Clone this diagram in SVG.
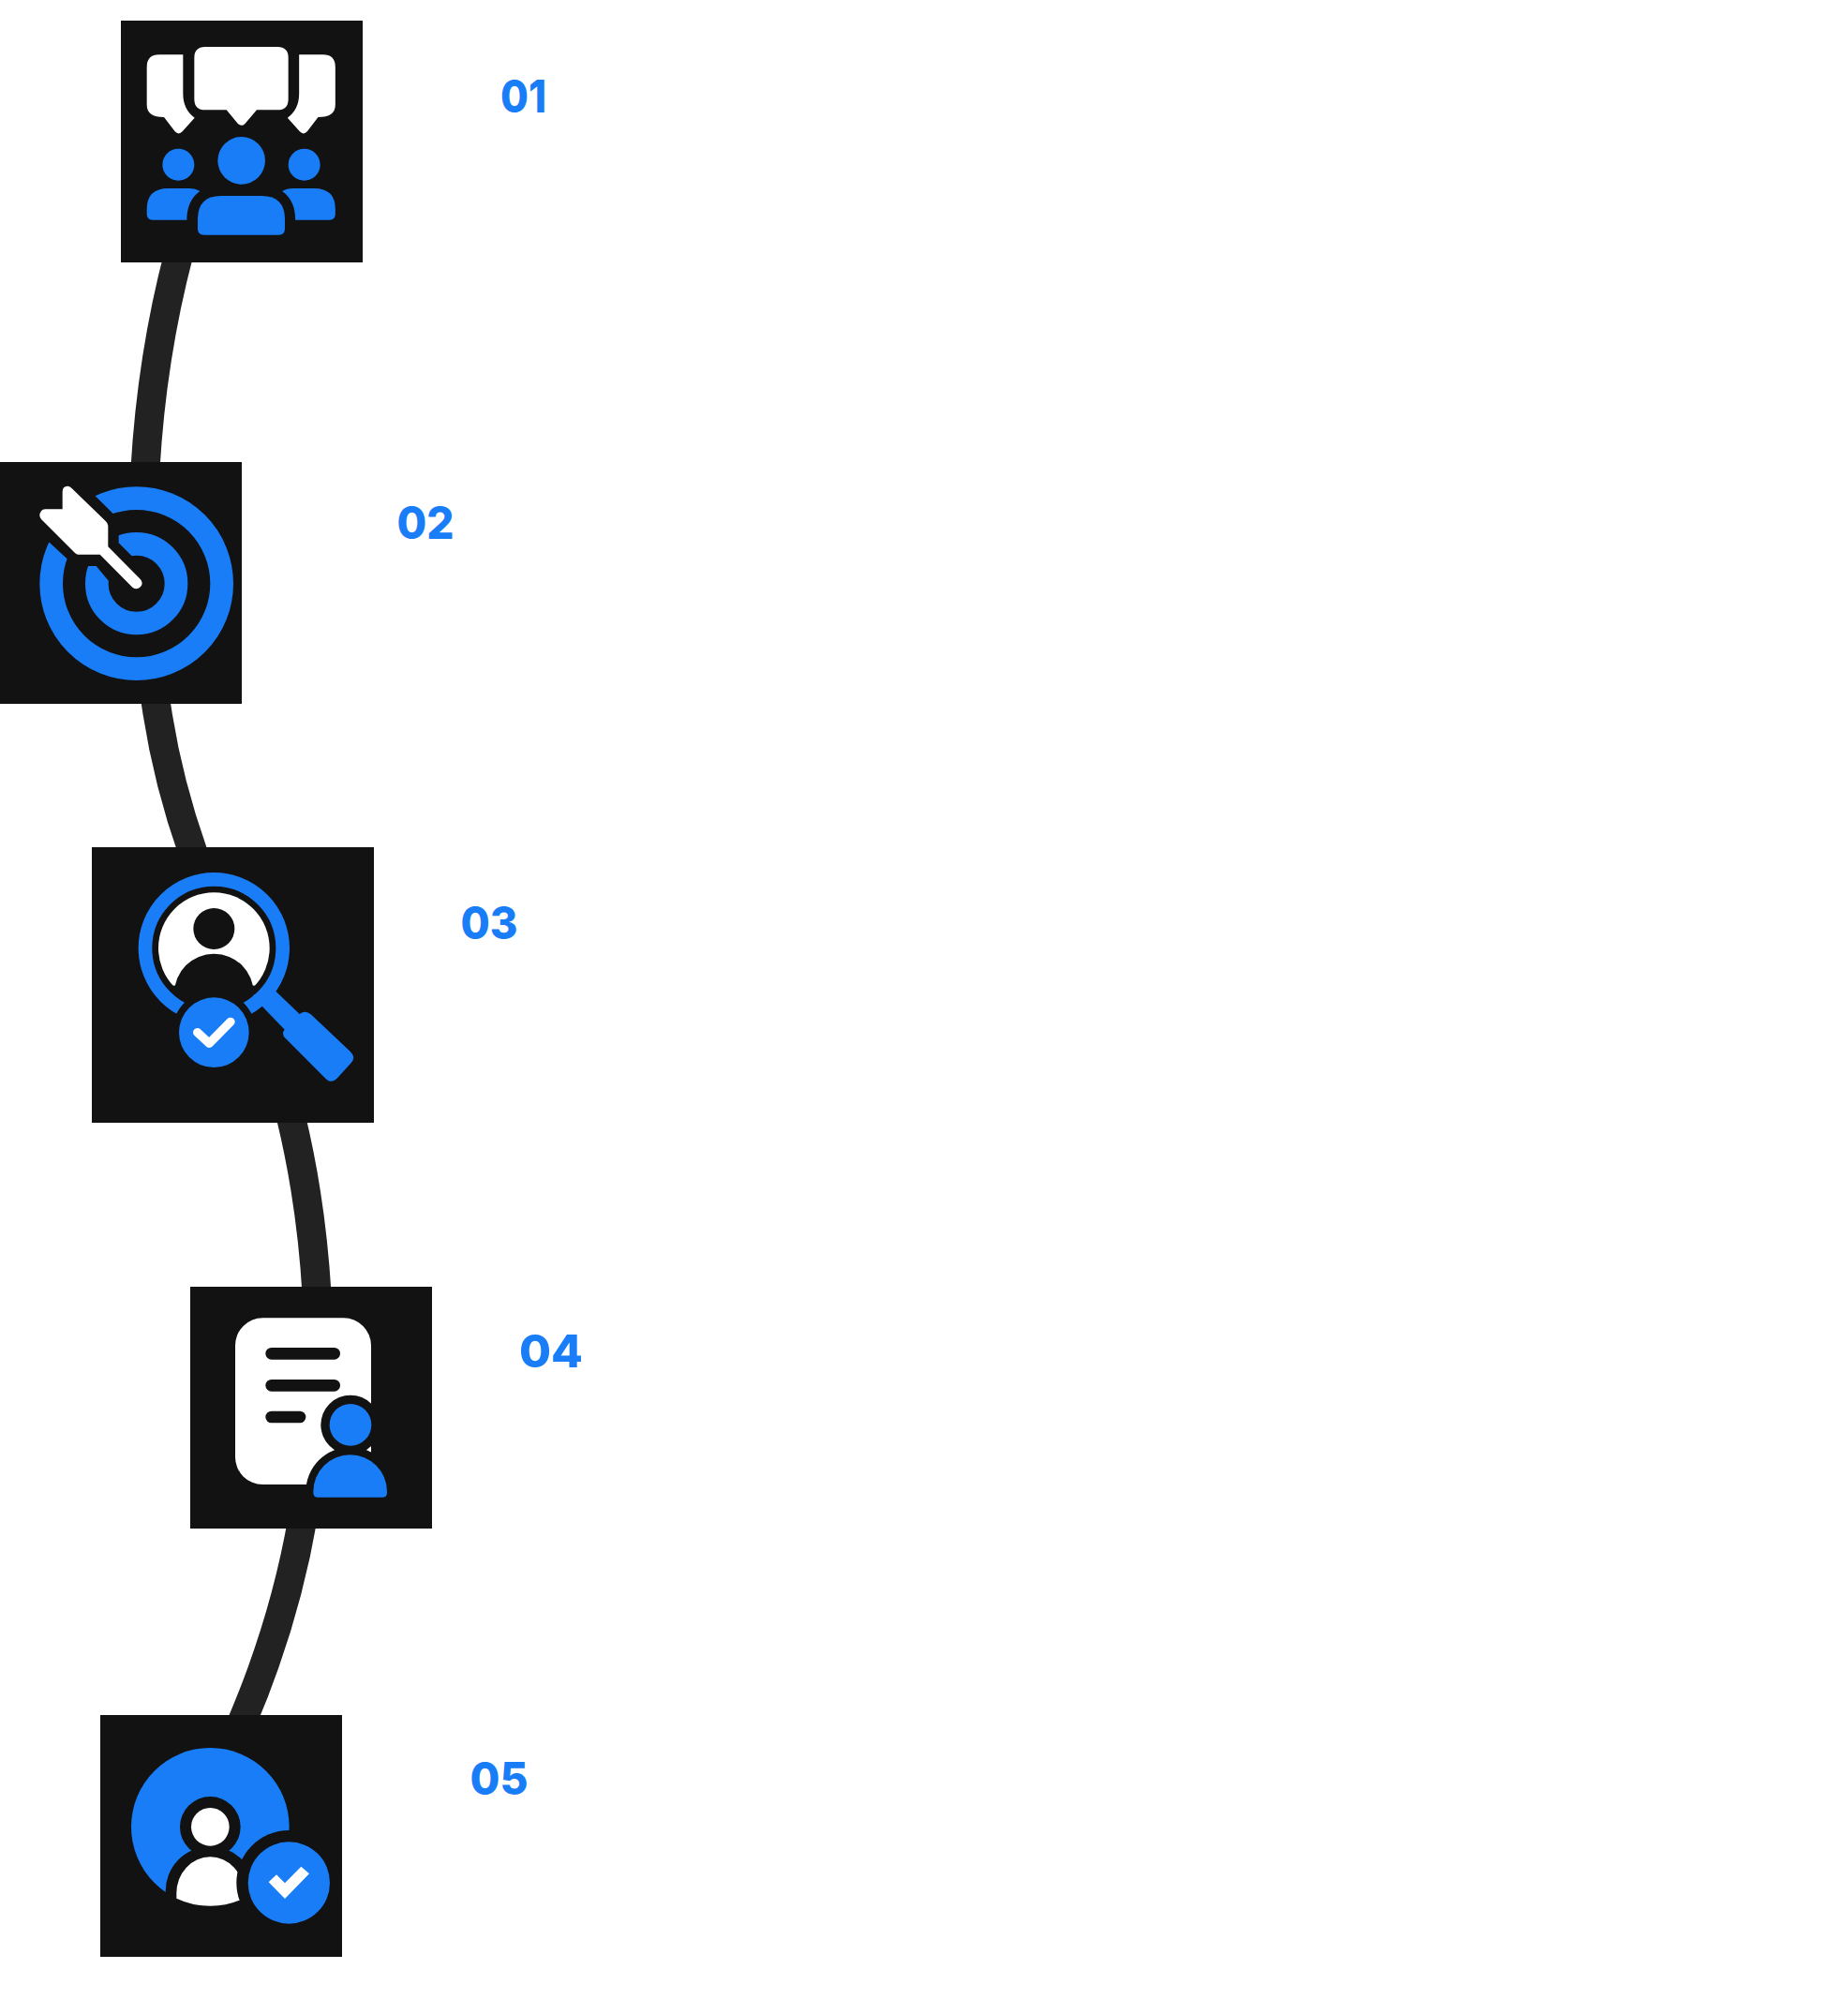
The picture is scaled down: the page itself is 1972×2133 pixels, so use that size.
<svg xmlns="http://www.w3.org/2000/svg" width="1972" height="2133" viewBox="0 0 1972 2133">
<style>
.bg{fill:#121212}.b{fill:#197df7}.w{fill:#fff}
.c{fill:none;stroke:#222;stroke-width:31}
.n{font-family:"Inter","Liberation Sans",sans-serif;font-weight:800;font-size:48px;fill:#197df7}
</style>
<rect width="1972" height="2133" fill="#fff"/>
<g id="connectors">
<path class="c" d="M191 270Q162 380 155 500"/>
<path class="c" d="M165 740Q176 825 206 910"/>
<path class="c" d="M310 1190Q332 1280 338 1380"/>
<path class="c" d="M323 1620Q304 1730 258 1838"/>
</g>
<g id="node-01">
<rect class="bg" x="129" y="22" width="258" height="258"/>
<g transform="translate(120 10) scale(.33333)">
<path class="w" d="M262 155Q262 120 297 120H528Q563 120 563 155V287Q563 322 528 322H462L425 365Q413 378 401 365L365 322H297Q262 322 262 287Z"/>
<g id="side-bubble"><path class="w" d="M226 145H150Q110 145 110 185V305Q110 345 165 345L200 391Q212 404 224 391L263 347Q226 320 226 270Z"/>
<circle class="b" cx="211" cy="497" r="51"/>
<path class="b" d="M110 655V640Q110 573 178 573H245Q265 573 280 582Q238 612 238 674H128Q110 674 110 655Z"/></g>
<g transform="translate(823.5 0) scale(-1 1)"><path class="w" d="M226 145H150Q110 145 110 185V305Q110 345 165 345L200 391Q212 404 224 391L263 347Q226 320 226 270Z"/>
<circle class="b" cx="209.500" cy="497" r="51"/>
<path class="b" d="M110 655V640Q110 573 178 573H245Q265 573 280 582Q238 612 238 674H128Q110 674 110 655Z"/></g>
<circle class="b" cx="413" cy="484" r="76"/>
<path class="b" d="M273 702V672Q273 597 348 597H477Q552 597 552 672V702Q552 722 532 722H293Q273 722 273 702Z"/>
</g>
<text class="n" x="534" y="120" textLength="49" lengthAdjust="spacingAndGlyphs">01</text>
</g>
<g id="node-02">
<rect class="bg" x="0" y="493" width="258" height="258"/>
<g transform="translate(0 480) scale(.33333)">
<circle cx="437" cy="428" r="273" fill="none" stroke="#197df7" stroke-width="74"/>
<circle cx="437" cy="428" r="127" fill="none" stroke="#197df7" stroke-width="74"/>
<path class="bg" d="M290 133L380 222V298L470 388L390 470L308 372H240L140 280L100 200L200 100Z"/>
<path class="w" d="M200 135Q200 115 218 116Q226 117 232 125L338 228Q346 235 346 243V310L450 415Q460 428 450 438Q438 450 424 440L320 335H250Q245 335 240 330L132 222Q122 210 132 196Q136 190 145 190H200Z"/>
</g>
<text class="n" x="423.500" y="574.500" textLength="61" lengthAdjust="spacingAndGlyphs">02</text>
</g>
<g id="node-03">
<rect class="bg" x="98" y="904" width="301" height="294"/>
<g transform="translate(90 895) scale(.33333)">
<circle class="w" cx="415" cy="350" r="178"/>
<circle class="bg" cx="415" cy="495" r="127"/>
<rect class="bg" x="270" y="470" width="290" height="90"/>
<circle class="bg" cx="415" cy="288" r="66"/>
<circle cx="415" cy="350" r="220" fill="none" stroke="#197df7" stroke-width="44"/>
<path class="b" d="M613 488L695 567L645 615L570 537L540 500Z"/>
<path class="b" d="M683 566Q705 545 725 562L852 682Q870 700 855 716L808 768Q792 784 775 770L645 640Q628 625 643 608Z"/>
<circle class="bg" cx="415" cy="620" r="134"/>
<circle class="b" cx="415" cy="620" r="112"/>
<path d="M362 620L400 655L468 586" fill="none" stroke="#fff" stroke-width="28" stroke-linecap="round" stroke-linejoin="round"/>
</g>
<text class="n" x="491.500" y="1001.700" textLength="61" lengthAdjust="spacingAndGlyphs">03</text>
</g>
<g id="node-04">
<rect class="bg" x="203" y="1373" width="258" height="258"/>
<g transform="translate(195 1365) scale(.33333)">
<rect class="w" x="168" y="124" width="435" height="533" rx="88"/>
<rect class="bg" x="265" y="219" width="239" height="38" rx="19"/>
<rect class="bg" x="265" y="321" width="239" height="38" rx="19"/>
<rect class="bg" x="265" y="422" width="129" height="38" rx="19"/>
<circle class="bg" cx="537" cy="466" r="95"/>
<path class="bg" d="M394 680A143 143 0 0 1 680 680H620V720H394Z"/>
<rect class="bg" x="603" y="420" width="120" height="260"/>
<circle class="b" cx="537" cy="466" r="67"/>
<path class="b" d="M418 680A118 118 0 0 1 654 680V683Q654 698 639 698H433Q418 698 418 683Z"/>
</g>
<text class="n" x="554" y="1459" textLength="68" lengthAdjust="spacingAndGlyphs">04</text>
</g>
<g id="node-05">
<rect class="bg" x="107" y="1830" width="258" height="258"/>
<g transform="translate(100 1820) scale(.33333)">
<circle class="b" cx="373" cy="388" r="253"/>
<circle class="bg" cx="373" cy="388" r="97"/>
<path class="bg" d="M230 597A143 143 0 0 1 516 590L520 700H230Z"/>
<circle class="w" cx="373" cy="388" r="61"/>
<path class="w" d="M265 617V600A108 116 0 0 1 481 600V617A253 253 0 0 1 265 617Z"/>
<circle class="bg" cx="625" cy="567" r="168"/>
<circle class="b" cx="625" cy="567" r="131"/>
<path class="w" d="M560 565L585 541L612 568L664 515L690 538L612 618Z"/>
</g>
<text class="n" x="501.500" y="1915" textLength="62" lengthAdjust="spacingAndGlyphs">05</text>
</g>
</svg>
